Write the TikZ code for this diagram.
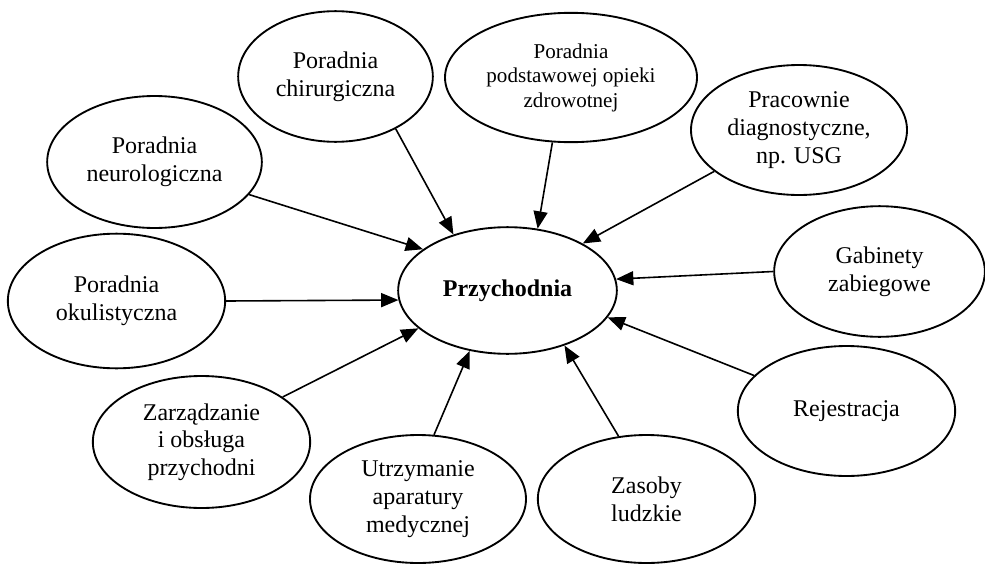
\documentclass[tikz,border=0pt]{standalone}
\usepackage{fontspec}
\setmainfont{Liberation Serif}
\usetikzlibrary{shapes.geometric,arrows.meta}
\newcommand{\txt}{\fontsize{18}{20.8}\selectfont}
\newcommand{\smalltxt}{\fontsize{15.8}{18.4}\selectfont}

\begin{document}
\begin{tikzpicture}[x=0.75pt, y=-0.75pt, 
    oval/.style={draw, ellipse, line width=1.4pt, inner sep=0pt, align=center, font=\txt}, 
    link/.style={line width=1.2pt, -{Triangle[length=13pt, width=10.5pt]}}] 
    \useasboundingbox (0,0) rectangle (985,564); 
    \node[oval, minimum width=164pt, minimum height=95pt, font=\txt\bfseries] (przychodnia) at (507.5,290.5) {Przychodnia}; 
    \node[oval, minimum width=146pt, minimum height=98pt] (chirurg) at (335.5,76.5) {Poradnia\\chirurgiczna}; 
    \node[oval, minimum width=161pt, minimum height=99pt] (neuro) at (154.5,162) {Poradnia\\neurologiczna}; 
    \node[oval, minimum width=189pt, minimum height=97pt, font=\smalltxt] (poz) at (571,77.5) {Poradnia\\podstawowej opieki\\zdrowotnej}; 
    \node[oval, minimum width=162pt, minimum height=97.5pt] (diagn) at (799,130) {Pracownie\\diagnostyczne,\\np. USG}; 
    \node[oval, minimum width=158pt, minimum height=98pt] (gabinety) at (879.5,271.5) {Gabinety\\zabiegowe}; 
    \node[oval, minimum width=163pt, minimum height=101pt] (okul) at (116.5,301) {Poradnia\\okulistyczna}; 
    \node[oval, minimum width=163pt, minimum height=99pt] (zarzad) at (201.5,442) {Zarządzanie\\i obsługa\\przychodni}; 
    \node[oval, minimum width=162pt, minimum height=96pt] (aparat) at (418,499) {Utrzymanie\\aparatury\\medycznej}; 
    \node[oval, minimum width=163pt, minimum height=96pt] (zasoby) at (646.5,499) {Zasoby\\ludzkie}; 
    \node[oval, minimum width=163pt, minimum height=97.5pt] (rejestr) at (846.5,411) {Rejestracja}; 
    \draw[link] (chirurg.-41) -- (przychodnia.134); 
    \draw[link] (neuro.-19.6) -- (przychodnia.154.8); 
    \draw[link] (poz.254.4) -- (przychodnia.64.3); 
    \draw[link] (diagn.206) -- (przychodnia.32.4); 
    \draw[link] (gabinety.180) -- (przychodnia.6.5); 
    \draw[link] (okul.0) -- (przychodnia.185.5); 
    \draw[link] (zarzad.29.7) -- (przychodnia.203); 
    \draw[link] (aparat.76.8) -- (przychodnia.238); 
    \draw[link] (zasoby.114.7) -- (przychodnia.316.5); 
    \draw[link] (rejestr.159.1) -- (przychodnia.345); 
\end{tikzpicture}
\end{document}
